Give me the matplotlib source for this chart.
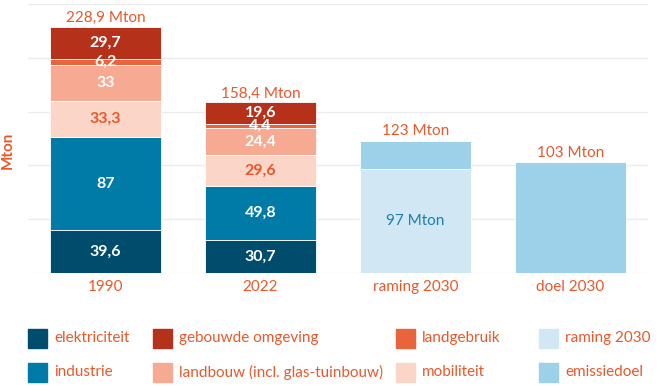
import matplotlib.pyplot as plt
import numpy as np

plt.rcParams['font.family'] = ['Lato', 'DejaVu Sans']

ORANJE = '#e8582a'

# Data
jaren = ['1990', '2022', 'raming 2030', 'doel 2030']
sectoren = ['elektriciteit', 'industrie', 'mobiliteit', 'landbouw (incl. glas-tuinbouw)',
            'landgebruik', 'gebouwde omgeving']
elektriciteit = [39.6, 30.7]
industrie = [87, 49.8]
mobiliteit = [33.3, 29.6]
landbouw = [33, 24.4]
landgebruik = [6.2, 4.4]
gebouwde_omgeving = [29.7, 19.6]
totalen = [228.9, 158.4]
raming_2030 = 97
raming_totaal = 123
doel_2030 = 103

kleuren = {
    'elektriciteit': '#004c6d',
    'industrie': '#007ba7',
    'mobiliteit': '#fbd5c8',
    'landbouw (incl. glas-tuinbouw)': '#f5aa91',
    'landgebruik': '#e8643c',
    'gebouwde omgeving': '#b5311a',
    'raming 2030': '#d1e8f4',
    'emissiedoel': '#9dd1e9',
}
tekstkleur = {'mobiliteit': ORANJE}

W, H = 662, 386
fig = plt.figure(figsize=(W / 100, H / 100), dpi=100)
ax = fig.add_axes([28 / W, 1 - 273 / H, 620 / W, 269 / H])

breedte = 0.72
x = np.arange(2)
onder = np.zeros(2)
reeksen = [elektriciteit, industrie, mobiliteit, landbouw, landgebruik, gebouwde_omgeving]
for naam, waarden in zip(sectoren, reeksen):
    waarden = np.array(waarden, dtype=float)
    ax.bar(x, waarden, breedte, bottom=onder, color=kleuren[naam],
           edgecolor='white', linewidth=0.6, zorder=3, label=naam)
    for xi, b, w in zip(x, onder, waarden):
        ax.text(xi, b + w / 2, f'{w:g}'.replace('.', ','), ha='center', va='center',
                color=tekstkleur.get(naam, 'white'), fontsize=11.5, fontweight='bold', zorder=4)
    onder += waarden

for xi, t in zip(x, totalen):
    ax.text(xi, t + 2, f'{t:g} Mton'.replace('.', ','), ha='center', va='bottom',
            color=ORANJE, fontsize=11, zorder=4)

# raming 2030
ax.bar(2, raming_2030, breedte, color=kleuren['raming 2030'], edgecolor='white',
       linewidth=0.6, zorder=3)
ax.bar(2, raming_totaal - raming_2030, breedte, bottom=raming_2030,
       color=kleuren['emissiedoel'], edgecolor='white', linewidth=0.6, zorder=3)
ax.text(2, raming_2030 / 2, f'{raming_2030} Mton', ha='center', va='center',
        color='#1a7fae', fontsize=11, zorder=4)
ax.text(2, raming_totaal + 2, f'{raming_totaal} Mton', ha='center', va='bottom',
        color=ORANJE, fontsize=11, zorder=4)

# doel 2030
ax.bar(3, doel_2030, breedte, color=kleuren['emissiedoel'], edgecolor='white',
       linewidth=0.6, zorder=3)
ax.text(3, doel_2030 + 2, f'{doel_2030} Mton', ha='center', va='bottom',
        color=ORANJE, fontsize=11, zorder=4)

ax.set_xlim(-0.5, 3.5)
ax.set_ylim(0, 250)
ax.set_yticks(np.arange(0, 251, 50))
ax.set_yticklabels([])
ax.tick_params(axis='y', length=0)
ax.tick_params(axis='x', length=0, colors=ORANJE, labelsize=11, pad=5)
ax.set_xticks(range(4))
ax.set_xticklabels(jaren)
ax.grid(axis='y', color='#ebebeb', linewidth=1, zorder=0)
for s in ax.spines.values():
    s.set_visible(False)
ax.set_ylabel('Mton', color=ORANJE, fontsize=11, fontweight='bold')
ax.yaxis.set_label_coords(-0.021, 0.457)

# Legenda (handmatig geplaatst)
legenda = [
    ('elektriciteit', 28, 338), ('industrie', 28, 372),
    ('gebouwde omgeving', 153, 338), ('landbouw (incl. glas-tuinbouw)', 153, 372),
    ('landgebruik', 396, 338), ('mobiliteit', 396, 372),
    ('raming 2030', 539, 338), ('emissiedoel', 539, 372),
]
for naam, px, py in legenda:
    fig.add_artist(plt.Rectangle((px / W, 1 - (py + 9.5) / H), 19 / W, 19 / H,
                                 transform=fig.transFigure, color=kleuren[naam]))
    fig.text((px + 26) / W, 1 - py / H, naam, color=ORANJE, fontsize=11,
             ha='left', va='center')

fig.savefig('out.png', dpi=100)
